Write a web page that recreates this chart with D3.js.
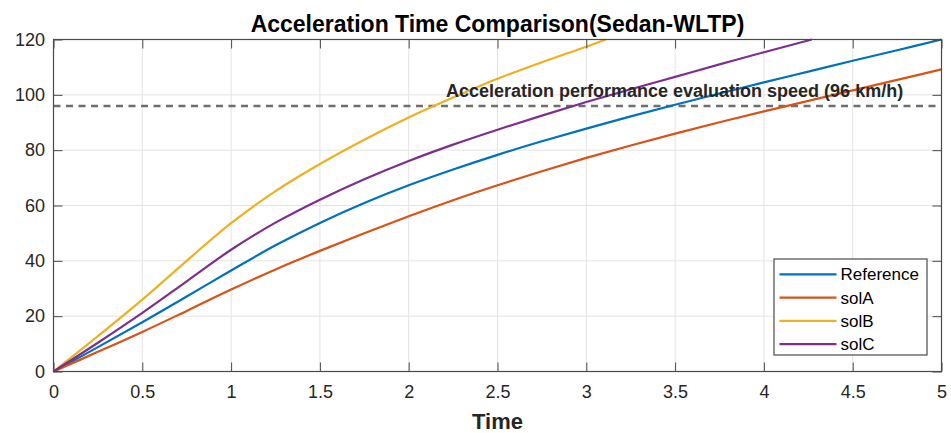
<!DOCTYPE html>
<html>
<head>
<meta charset="utf-8">
<script src="https://cdn.jsdelivr.net/npm/d3@7"></script>
<style>
  body { margin: 0; background: #fff; }
  svg { display: block; font-family: "Liberation Sans", Arial, sans-serif; }
</style>
</head>
<body>
<svg id="chart" width="951" height="433"></svg>
<script>
// values
var time = [0, 0.25, 0.5, 0.75, 1, 1.25, 1.5, 1.75, 2, 2.25, 2.5, 2.75, 3, 3.25, 3.5, 3.75, 4, 4.25, 4.5, 4.75, 5];
var reference = [0, 8.8, 17.8, 27.1, 36.5, 45.6, 53.7, 60.9, 67.3, 73, 78.3, 83.2, 87.8, 92.2, 96.4, 100.5, 104.5, 108.4, 112.3, 116.1, 120];
var solA = [0, 7.1, 14.3, 21.9, 29.6, 36.9, 43.6, 50, 56.1, 61.9, 67.3, 72.4, 77.2, 81.7, 86, 90.1, 94, 97.8, 101.6, 105.4, 109.2];
var solB = [0, 12.8, 26, 40, 53.6, 65.2, 75, 83.8, 91.8, 99, 105.8, 111.8, 117.4];
var solBEnd = [3.11, 120];
var solC = [0, 10.4, 21.2, 32.6, 44, 53.8, 62.1, 69.5, 76.1, 82, 87.4, 92.5, 97.4, 102, 106.5, 111, 115.4];
var solCEnd = [4.27, 120];

var seriesNames = ['Reference', 'solA', 'solB', 'solC'];
var seriesColors = ['#0072BD', '#D95319', '#EDB120', '#7E2F8E'];

var xTicks = [0, 0.5, 1, 1.5, 2, 2.5, 3, 3.5, 4, 4.5, 5];
var yTicks = [0, 20, 40, 60, 80, 100, 120];
var evalSpeed = 96;

var titleText = 'Acceleration Time Comparison(Sedan-WLTP)';
var xLabelText = 'Time';
var noteText = 'Acceleration performance evaluation speed (96 km/h)';

function toPoints(vals, end) {
    var pts = vals.map(function(v, i) { return [time[i], v]; });
    if (end) pts.push(end);
    return pts;
}

var series = [
    toPoints(reference),
    toPoints(solA),
    toPoints(solB, solBEnd),
    toPoints(solC, solCEnd)
];

var margin = { left: 53.5, top: 39.5, right: 9.5, bottom: 61.5 };
var svg = d3.select('#chart');
var W = +svg.attr('width'), H = +svg.attr('height');
var plotW = W - margin.left - margin.right;
var plotH = H - margin.top - margin.bottom;

var x = d3.scaleLinear().domain([0, 5]).range([0, plotW]);
var y = d3.scaleLinear().domain([0, 120]).range([plotH, 0]);

var g = svg.append('g').attr('transform', 'translate(' + margin.left + ',' + margin.top + ')');

// grid
g.append('g').selectAll('line').data(xTicks.slice(1, -1)).enter().append('line')
    .attr('x1', function(d) { return x(d); }).attr('x2', function(d) { return x(d); })
    .attr('y1', 0).attr('y2', plotH)
    .attr('stroke', '#e3e3e3').attr('stroke-width', 1);
g.append('g').selectAll('line').data(yTicks.slice(1, -1)).enter().append('line')
    .attr('y1', function(d) { return y(d); }).attr('y2', function(d) { return y(d); })
    .attr('x1', 0).attr('x2', plotW)
    .attr('stroke', '#e3e3e3').attr('stroke-width', 1);

// dashed evaluation speed line
g.append('line')
    .attr('x1', 0).attr('x2', plotW)
    .attr('y1', y(evalSpeed)).attr('y2', y(evalSpeed))
    .attr('stroke', '#6e6e6e').attr('stroke-width', 2.5)
    .attr('stroke-dasharray', '7,5.5');

// curves
var line = d3.line()
    .x(function(d) { return x(d[0]); })
    .y(function(d) { return y(d[1]); })
    .curve(d3.curveCatmullRom.alpha(0.5));

g.append('g').selectAll('path').data(series).enter().append('path')
    .attr('d', line)
    .attr('fill', 'none')
    .attr('stroke', function(d, i) { return seriesColors[i]; })
    .attr('stroke-width', 2.2);

// annotation
g.append('text')
    .attr('x', x(2.21)).attr('y', y(evalSpeed) - 8.5)
    .attr('font-size', '18px').attr('font-weight', 'bold')
    .attr('fill', '#262626')
    .text(noteText);

// axes (ticks inward on all four sides)
var axisColor = '#4a4a4a';
var tickLen = 9;
var xAxis = d3.axisBottom(x).tickValues(xTicks).tickSizeInner(-tickLen).tickSizeOuter(0).tickPadding(13.5)
    .tickFormat(d3.format('~g'));
var yAxis = d3.axisLeft(y).tickValues(yTicks).tickSizeInner(-tickLen).tickSizeOuter(0).tickPadding(8.5);

function styleAxis(sel) {
    sel.select('.domain').remove();
    sel.selectAll('.tick line').attr('stroke', axisColor);
    sel.selectAll('.tick text').attr('fill', '#262626').attr('font-size', '18px')
        .attr('font-family', '"Liberation Sans", Arial, sans-serif');
}

g.append('g').attr('transform', 'translate(0,' + plotH + ')').call(xAxis).call(styleAxis);
g.append('g').call(yAxis).call(styleAxis);
g.append('g').call(d3.axisTop(x).tickValues(xTicks).tickSizeInner(-tickLen).tickSizeOuter(0).tickFormat(''))
    .call(styleAxis);
g.append('g').attr('transform', 'translate(' + plotW + ',0)')
    .call(d3.axisRight(y).tickValues(yTicks).tickSizeInner(-tickLen).tickSizeOuter(0).tickFormat(''))
    .call(styleAxis);

g.append('rect')
    .attr('x', 0).attr('y', 0).attr('width', plotW).attr('height', plotH)
    .attr('fill', 'none').attr('stroke', axisColor).attr('stroke-width', 1.2);

// title and x label
svg.append('text')
    .attr('x', margin.left + plotW / 2).attr('y', 31.5)
    .attr('text-anchor', 'middle')
    .attr('font-size', '23px').attr('font-weight', 'bold').attr('fill', '#000')
    .text(titleText);

svg.append('text')
    .attr('x', margin.left + plotW / 2).attr('y', 429)
    .attr('text-anchor', 'middle')
    .attr('font-size', '22px').attr('font-weight', 'bold').attr('fill', '#262626')
    .text(xLabelText);

// legend
var legend = svg.append('g').attr('transform', 'translate(774,259)');
legend.append('rect')
    .attr('width', 153).attr('height', 96)
    .attr('fill', '#fff').attr('stroke', axisColor).attr('stroke-width', 1.2);
var rows = legend.selectAll('g.row').data(seriesNames).enter().append('g')
    .attr('class', 'row')
    .attr('transform', function(d, i) { return 'translate(0,' + (15.3 + i * 23.3) + ')'; });
rows.append('line')
    .attr('x1', 5.5).attr('x2', 62.5)
    .attr('stroke', function(d, i) { return seriesColors[i]; })
    .attr('stroke-width', 2.2);
rows.append('text')
    .attr('x', 66.5).attr('dy', '0.35em')
    .attr('font-size', '17px').attr('fill', '#000')
    .text(function(d) { return d; });
</script>
</body>
</html>
